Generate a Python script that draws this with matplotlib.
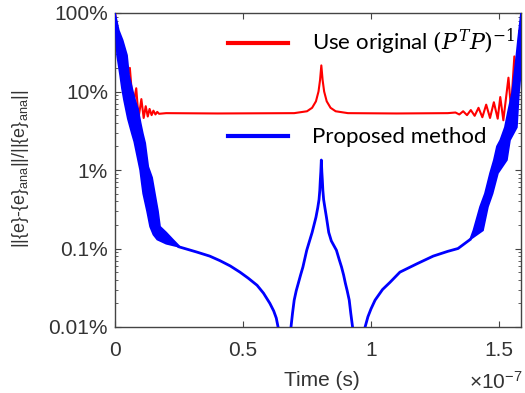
import numpy as np
import matplotlib
matplotlib.use("Agg")
import matplotlib.pyplot as plt
from matplotlib.ticker import FixedLocator, FixedFormatter, LogLocator, NullFormatter

plt.rcParams['font.family'] = ['Liberation Sans', 'DejaVu Sans']
plt.rcParams['mathtext.fontset'] = 'custom'
plt.rcParams['mathtext.rm'] = 'Liberation Sans'
plt.rcParams['mathtext.it'] = 'Liberation Sans:italic'
plt.rcParams['mathtext.sf'] = 'Liberation Sans'

# ---------------- data (time in units of 1e-7 s, error in %) ----------------
red_t = [0, 0.01, 0.02, 0.031, 0.045, 0.058, 0.07, 0.083, 0.092, 0.103, 0.112, 0.12,
         0.128, 0.135, 0.143, 0.15, 0.158, 0.165, 0.172, 0.2, 0.4, 0.7, 0.75, 0.77,
         0.785, 0.795, 0.801, 0.806, 0.811, 0.817, 0.827, 0.842, 0.862, 0.91, 1.1,
         1.3, 1.33, 1.345, 1.36, 1.375, 1.39, 1.405, 1.42, 1.435, 1.45, 1.465, 1.48,
         1.495, 1.505, 1.517, 1.537, 1.547, 1.56, 1.568, 1.58, 1.584, 1.59]
red_v = [100, 55, 22, 40, 14, 20, 6.5, 11, 4.6, 8.0, 4.6, 6.5,
         4.8, 6.0, 5.0, 5.7, 5.1, 5.5, 5.2, 5.3, 5.25, 5.3, 5.6, 6.2,
         7.5, 10, 14, 21.5, 14, 10, 7.5, 6.2, 5.6, 5.3, 5.25,
         5.3, 5.4, 5.1, 5.6, 5.0, 5.8, 4.9, 6.2, 4.7, 6.8, 4.6, 7.3,
         4.5, 8.5, 4.3, 15, 6.0, 28, 12, 60, 30, 100]

# blue: oscillating band near the ends (lower / upper envelopes)
band1_lo_t = [0, 0.008, 0.02, 0.027, 0.035, 0.05, 0.066, 0.075, 0.085, 0.098, 0.104,
              0.11, 0.125, 0.137, 0.15, 0.165, 0.2, 0.25]
band1_lo_v = [100, 29, 16, 11, 7.8, 4.5, 2.9, 2.3, 1.6, 1.0, 0.7,
              0.5, 0.3, 0.19, 0.15, 0.13, 0.115, 0.105]
band1_hi_t = [0, 0.015, 0.03, 0.047, 0.055, 0.07, 0.08, 0.09, 0.1, 0.109, 0.118,
              0.13, 0.145, 0.16, 0.168, 0.176, 0.2, 0.226, 0.25]
band1_hi_v = [100, 60, 45, 29, 16, 10, 7.5, 6.0, 4.0, 2.9, 2.2,
              1.1, 0.8, 0.42, 0.3, 0.19, 0.16, 0.13, 0.108]

band2_lo_t = [1.387, 1.4375, 1.457, 1.475, 1.496, 1.531, 1.543, 1.57, 1.578, 1.59]
band2_lo_v = [0.13, 0.17, 0.34, 0.5, 0.91, 1.34, 2.4, 3.5, 9.6, 25]
band2_hi_t = [1.387, 1.40, 1.426, 1.445, 1.465, 1.48, 1.492, 1.505, 1.523, 1.535,
              1.551, 1.566, 1.575, 1.586]
band2_hi_v = [0.13, 0.17, 0.34, 0.5, 0.91, 1.34, 2.0, 2.4, 3.5, 5.5,
              9.6, 25, 48, 100]

# blue: smooth middle part
blue_t = [0.25, 0.32, 0.37, 0.41, 0.45, 0.488, 0.52, 0.555, 0.58, 0.605, 0.62, 0.63,
          0.637, 0.65, 0.675, 0.6875, 0.6935, 0.70, 0.708, 0.716, 0.725, 0.734, 0.749,
          0.76, 0.77, 0.785, 0.792, 0.797, 0.80, 0.802, 0.804, 0.806, 0.808, 0.81,
          0.812, 0.815, 0.82, 0.826, 0.835, 0.845, 0.865, 0.876, 0.885, 0.893, 0.90,
          0.907, 0.915, 0.921, 0.928, 0.94, 0.965, 0.977, 0.988, 1.0, 1.016, 1.045,
          1.074, 1.113, 1.18, 1.243, 1.30, 1.34, 1.387]
blue_v = [0.105, 0.09, 0.08, 0.07, 0.06, 0.05, 0.042, 0.034, 0.027, 0.02, 0.016, 0.013,
          0.01, 0.005, 0.005, 0.01, 0.015, 0.022, 0.029, 0.036, 0.046, 0.058, 0.095,
          0.125, 0.16, 0.25, 0.33, 0.42, 0.55, 0.74, 0.95, 1.34, 0.95, 0.74,
          0.55, 0.42, 0.33, 0.25, 0.16, 0.125, 0.095, 0.072, 0.058, 0.046, 0.036,
          0.029, 0.022, 0.015, 0.01, 0.005, 0.005, 0.01, 0.0135, 0.017, 0.022, 0.03,
          0.037, 0.05, 0.064, 0.08, 0.092, 0.1, 0.13]

x_ticks = [0, 0.5, 1, 1.5]
x_tick_labels = ['0', '0.5', '1', '1.5']
y_ticks = [0.01, 0.1, 1, 10, 100]
y_tick_labels = ['0.01%', '0.1%', '1%', '10%', '100%']

SCALE = 1e-7
RED = '#ff0000'
BLUE = '#0000ff'
TXT = '#333333'

fig = plt.figure(figsize=(5.25, 3.93), dpi=100)
ax = fig.add_axes([115 / 525, 1 - 327 / 393, (521 - 115) / 525, (327 - 13) / 393])

s = lambda a: np.asarray(a) * SCALE

ax.plot(s(red_t), red_v, color=RED, lw=1.5, label='Use original $(P^TP)^{-1}$', zorder=3)

for lo_t, lo_v, hi_t, hi_v in [(band1_lo_t, band1_lo_v, band1_hi_t, band1_hi_v),
                               (band2_lo_t, band2_lo_v, band2_hi_t, band2_hi_v)]:
    px = np.concatenate([s(lo_t), s(hi_t)[::-1]])
    py = np.concatenate([lo_v, hi_v[::-1]])
    ax.fill(px, py, color=BLUE, lw=1.2, zorder=4)
ax.plot(s(blue_t), blue_v, color=BLUE, lw=2.0, label='Proposed method', zorder=4,
        solid_joinstyle='round')

ax.set_yscale('log')
ax.set_ylim(0.01, 100)
ax.set_xlim(0, 1.586e-7)

ax.xaxis.set_major_locator(FixedLocator(s(x_ticks)))
ax.xaxis.set_major_formatter(FixedFormatter(x_tick_labels))
ax.yaxis.set_major_locator(FixedLocator(y_ticks))
ax.yaxis.set_major_formatter(FixedFormatter(y_tick_labels))
ax.yaxis.set_minor_locator(LogLocator(base=10, subs=np.arange(2, 10)))
ax.yaxis.set_minor_formatter(NullFormatter())

spine_c = '#444444'
for sp in ax.spines.values():
    sp.set_color(spine_c)
    sp.set_linewidth(1.0)
ax.tick_params(which='both', direction='in', top=True, right=True, color=spine_c,
               labelcolor=TXT, labelsize=15)
ax.tick_params(which='major', length=4, width=0.8)
ax.tick_params(which='minor', length=2.5, width=0.6)
ax.tick_params(axis='x', pad=10)
ax.tick_params(axis='y', pad=5)

ax.set_ylabel(r'||{e}-{e}$_{\mathrm{ana}}$||/||{e}$_{\mathrm{ana}}$||', fontsize=13, color=TXT,
              va='center')
ax.yaxis.set_label_coords((21 - 115) / 406, 0.505)
ax.set_xlabel('Time (s)', fontsize=15, color=TXT, va='center')
ax.xaxis.set_label_coords((322 - 115) / 406, (327 - 380) / 314)

fig.text(523 / 525, 1 - 382 / 393, r'$\times$10$^{-7}$', ha='right', va='center',
         fontsize=15, color=TXT)

leg = ax.legend(loc='upper left', bbox_to_anchor=((228 - 115) / 406, 1 - (27 - 13) / 314),
                frameon=False, handlelength=2.7, handletextpad=1.1, labelspacing=3.15,
                borderaxespad=0, borderpad=0,
                prop={'family': ['Lato', 'DejaVu Sans'], 'size': 16})
for line in leg.get_lines():
    line.set_linewidth(3)
leg.get_texts()[0].set_math_fontfamily('dejavuserif')

fig.savefig('out.png', dpi=100)
